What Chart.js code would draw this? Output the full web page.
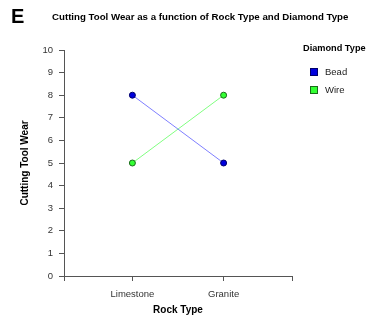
<!DOCTYPE html>
<html><head><meta charset="utf-8">
<script src="https://cdn.jsdelivr.net/npm/chart.js@4.4.1/dist/chart.umd.min.js"></script>
<style>html,body{margin:0;padding:0;background:#fff;}canvas{display:block;}</style>
</head><body>
<canvas id="c" width="369" height="319"></canvas>
<script>
const panelLetter = 'E';
const chartTitle = 'Cutting Tool Wear as a function of Rock Type and Diamond Type';
const categories = ['Limestone', 'Granite'];
const seriesNames = ['Bead', 'Wire'];
const beadValues = [8, 5];
const wireValues = [5, 8];
const yTicks = [0,1,2,3,4,5,6,7,8,9,10];
const xAxisTitle = 'Rock Type';
const yAxisTitle = 'Cutting Tool Wear';
const legendTitle = 'Diamond Type';

const FONT = '"Liberation Sans", Arial, Helvetica, sans-serif';
const AXIS = '#555555';

function toPoints(vals){ return vals.map((v,i)=>({x:i, y:v})); }

const extras = {
  id: 'extras',
  afterDraw(chart){
    const ctx = chart.ctx;
    ctx.save();
    ctx.fillStyle = '#000';
    ctx.textBaseline = 'alphabetic';
    ctx.textAlign = 'left';
    ctx.font = 'bold 20px ' + FONT;
    ctx.fillText(panelLetter, 11, 22.5);
    ctx.font = 'bold 9.7px ' + FONT;
    ctx.fillText(chartTitle, 52, 19.5);
    // legend
    ctx.font = 'bold 9.2px ' + FONT;
    ctx.fillText(legendTitle, 303, 50.5);
    ctx.font = '9.5px ' + FONT;
    chart.data.datasets.forEach((ds, i) => {
      const y = 72 + i * 18;
      ctx.fillStyle = ds.pointBackgroundColor;
      ctx.fillRect(310.5, y - 3.5, 7, 7);
      ctx.strokeStyle = ds.pointBorderColor;
      ctx.lineWidth = 1;
      ctx.strokeRect(310.5, y - 3.5, 7, 7);
      ctx.fillStyle = '#222';
      ctx.textBaseline = 'middle';
      ctx.fillText(ds.label, 325, y + 0.5);
    });
    ctx.restore();
  }
};

new Chart(document.getElementById('c'), {
  type: 'line',
  data: {
    datasets: [
      { label: seriesNames[0], data: toPoints(beadValues), borderColor: '#7f7fff', borderWidth: 1,
        pointBackgroundColor: '#0000dd', pointBorderColor: '#00006a', pointRadius: 3, pointBorderWidth: 1 },
      { label: seriesNames[1], data: toPoints(wireValues), borderColor: '#80ff80', borderWidth: 1,
        pointBackgroundColor: '#33ff33', pointBorderColor: '#1a6a1a', pointRadius: 3, pointBorderWidth: 1 }
    ]
  },
  options: {
    responsive: false,
    animation: false,
    layout: { padding: { top: 50, right: 77, left: 0, bottom: 0 } },
    plugins: { legend: { display: false }, tooltip: { enabled: false }, title: { display: false } },
    scales: {
      x: {
        type: 'linear', min: -0.75, max: 1.75,
        afterBuildTicks(scale){ scale.ticks = [-0.75, 0, 1, 1.75].map(v => ({value: v})); },
        afterFit(scale){ scale.height = 43; },
        grid: { drawOnChartArea: false, drawTicks: true, tickLength: 5, color: AXIS },
        border: { color: AXIS, width: 1 },
        ticks: { padding: 8, color: '#333', font: { family: FONT, size: 9.5 }, maxRotation: 0, autoSkip: false,
          callback: v => Number.isInteger(v) ? categories[v] : '' },
        title: { display: true, text: xAxisTitle, color: '#000', font: { family: FONT, size: 10, weight: 'bold' }, padding: { top: 0, bottom: 3 } }
      },
      y: {
        min: 0, max: 10,
        afterBuildTicks(scale){ scale.ticks = yTicks.map(v => ({value: v})); },
        afterFit(scale){ scale.width = 64; },
        grid: { drawOnChartArea: false, drawTicks: true, tickLength: 5, color: AXIS },
        border: { color: AXIS, width: 1 },
        ticks: { padding: 6, color: '#333', font: { family: FONT, size: 9.5 } },
        title: { display: true, text: yAxisTitle, color: '#000', font: { family: FONT, size: 10, weight: 'bold' }, padding: { top: 19, bottom: 0 } }
      }
    }
  },
  plugins: [extras]
});
</script>
</body></html>
